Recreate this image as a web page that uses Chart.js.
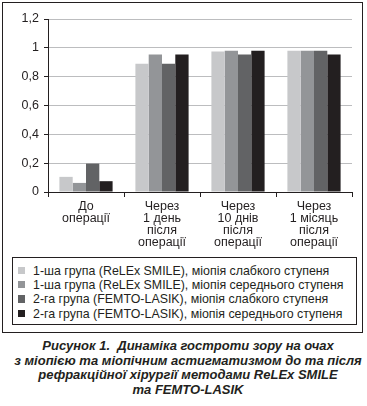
<!DOCTYPE html>
<html>
<head>
<meta charset="utf-8">
<script src="https://cdn.jsdelivr.net/npm/chart.js"></script>
<style>
	body { margin: 0; background: #fff; font-family: "Liberation Sans", Arial, sans-serif; color: #231f20; }
	#frame { position: absolute; left: 2px; top: 2px; width: 359px; height: 329px; border: 1.5px solid #231f20; }
	#wrap { position: absolute; left: 0; top: 0; width: 367px; height: 256px; }
	#legend { position: absolute; left: 12px; top: 257px; width: 343px; height: 66px; border: 1px solid #231f20; }
	.row { position: absolute; left: 0; height: 14px; font-size: 12.4px; line-height: 14px; white-space: nowrap; }
	.row span.box { position: absolute; left: 4.5px; top: 3px; width: 7.5px; height: 7.5px; }
	.row span.txt { position: absolute; left: 20px; top: 0; }
	#caption { position: absolute; left: 0; top: 339px; width: 376px; text-align: center; font-weight: bold; font-style: italic; font-size: 13px; line-height: 14.7px; }
</style>
</head>
<body>
<div id="frame"></div>
<div id="wrap"><canvas id="chart" width="367" height="256"></canvas></div>
<div id="legend"></div>
<div id="caption">Рисунок 1.&nbsp; Динаміка гостроти зору на очах<br>з міопією та міопічним астигматизмом до та після<br>рефракційної хірургії методами ReLEx SMILE<br>та FEMTO-LASIK</div>
<script>
// categories (x axis)
const categories = [
	['До', 'операції'],
	['Через', '1 день', 'після', 'операції'],
	['Через', '10 днів', 'після', 'операції'],
	['Через', '1 місяць', 'після', 'операції']
];
const seriesNames = [
	'1-ша група (ReLEx SMILE), міопія слабкого ступеня',
	'1-ша група (ReLEx SMILE), міопія середнього ступеня',
	'2-га група (FEMTO-LASIK), міопія слабкого ступеня',
	'2-га група (FEMTO-LASIK), міопія середнього ступеня'
];
const smileMild = [0.105, 0.89, 0.975, 0.98];
const smileModerate = [0.063, 0.953, 0.98, 0.98];
const lasikMild = [0.197, 0.89, 0.953, 0.98];
const lasikModerate = [0.075, 0.953, 0.98, 0.953];
const yTickLabels = ['0', '0,2', '0,4', '0,6', '0,8', '1', '1,2'];
const colors = ['#c7c8ca', '#939598', '#626365', '#231f20'];

const seriesValues = [smileMild, smileModerate, lasikMild, lasikModerate];

// html legend
const legend = document.getElementById('legend');
seriesNames.forEach(function(name, i) {
	const row = document.createElement('div');
	row.className = 'row';
	row.style.top = (5.5 + i * 14.4) + 'px';
	row.innerHTML = '<span class="box" style="background:' + colors[i] + '"></span><span class="txt">' + name + '</span>';
	legend.appendChild(row);
});

const ctx = document.getElementById('chart').getContext('2d');
new Chart(ctx, {
	type: 'bar',
	data: {
		labels: categories,
		datasets: seriesValues.map(function(vals, i) {
			return {
				label: seriesNames[i],
				data: vals,
				backgroundColor: colors[i],
				borderWidth: 0,
				categoryPercentage: 0.7,
				barPercentage: 1.0
			};
		})
	},
	options: {
		responsive: false,
		animation: false,
		layout: { padding: { left: 0, right: 15, top: 19, bottom: 0 } },
		plugins: {
			legend: { display: false },
			tooltip: { enabled: false }
		},
		scales: {
			x: {
				offset: true,
				grid: {
					offset: true,
					drawOnChartArea: false,
					drawTicks: true,
					tickLength: 5,
					tickColor: '#231f20',
					lineWidth: 1
				},
				border: { color: '#231f20', width: 1 },
				ticks: {
					color: '#231f20',
					font: { family: 'Liberation Sans', size: 12.5, lineHeight: 0.98 },
					padding: 3,
					maxRotation: 0,
					autoSkip: false
				},
				afterFit: function(scale) { scale.height = 64; }
			},
			y: {
				min: 0,
				max: 1.2,
				grid: {
					color: '#bcbdbf',
					lineWidth: 1,
					tickLength: 4,
					tickColor: '#231f20'
				},
				border: { color: '#231f20', width: 1 },
				ticks: {
					stepSize: 0.2,
					color: '#231f20',
					font: { family: 'Liberation Sans', size: 12.5 },
					padding: 5,
					callback: function(value, index) { return yTickLabels[index]; }
				},
				afterFit: function(scale) { scale.width = 48; }
			}
		}
	}
});
</script>
</body>
</html>
